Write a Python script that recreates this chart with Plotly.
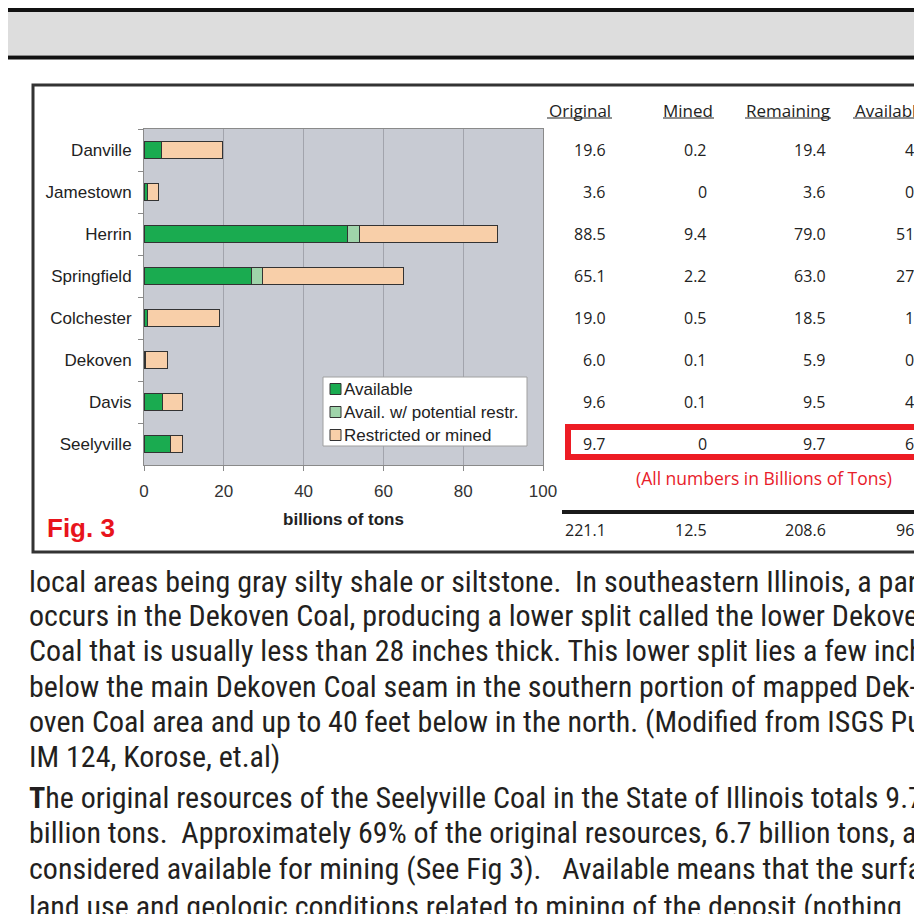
import plotly.graph_objects as go

# ---------------- data ----------------
coals = ["Danville", "Jamestown", "Herrin", "Springfield", "Colchester", "Dekoven", "Davis", "Seelyville"]
available = [4.5, 0.9, 51.0, 27.0, 1.0, 0.3, 4.7, 6.7]
avail_restr = [0, 0, 3.1, 2.6, 0, 0, 0, 0]
restricted = [15.1, 2.7, 34.4, 35.5, 18.0, 5.7, 4.9, 3.0]
series_names = ["Available", "Avail. w/ potential restr.", "Restricted or mined"]

original = [19.6, 3.6, 88.5, 65.1, 19.0, 6.0, 9.6, 9.7]
mined = ["0.2", "0", "9.4", "2.2", "0.5", "0.1", "0.1", "0"]
remaining = [19.4, 3.6, 79.0, 63.0, 18.5, 5.9, 9.5, 9.7]
table_headers = ["Original", "Mined", "Remaining", "Available"]
totals = ["221.1", "12.5", "208.6", "96.1"]

x_ticks = [0, 20, 40, 60, 80, 100]

body_lines = [
    "local areas being gray silty shale or siltstone.  In southeastern Illinois, a parting",
    "occurs in the Dekoven Coal, producing a lower split called the lower Dekoven",
    "Coal that is usually less than 28 inches thick. This lower split lies a few inches",
    "below the main Dekoven Coal seam in the southern portion of mapped Dek-",
    "oven Coal area and up to 40 feet below in the north. (Modified from ISGS Pub.",
    "IM 124, Korose, et.al)",
    "",
    "<b>T</b>he original resources of the Seelyville Coal in the State of Illinois totals 9.7",
    "billion tons.  Approximately 69% of the original resources, 6.7 billion tons, are",
    "considered available for mining (See Fig 3).   Available means that the surface",
    "land use and geologic conditions related to mining of the deposit (nothing",
]

# ---------------- layout helpers (page pixel -> paper) ----------------
OFF = 8  # page body margin of the browser
L, R, T, B = 144, 543, 129, 465
W, H = R - L, B - T
FIG_W, FIG_H = 922 - OFF, 922 - 2 * OFF


def PX(x):
    return (x - L) / W


def PY(y):
    return (B - y) / H


GREEN = "#1aab50"
LGREEN = "#9fd4aa"
PEACH = "#f8cfa9"
EDGE = "#333333"
colors = [GREEN, LGREEN, PEACH]
ARIAL = "Liberation Sans, Arial"
BODY_FONT = "Roboto Condensed, Liberation Sans Narrow, Roboto"

fig = go.Figure()
for name, vals, col in zip(series_names, [available, avail_restr, restricted], colors):
    fig.add_trace(go.Bar(
        y=coals, x=vals, orientation="h", name=name,
        marker=dict(color=col, line=dict(color=EDGE, width=1)),
        width=0.42, showlegend=False,
    ))

shapes = []
# top page strip
shapes.append(dict(type="rect", xref="paper", yref="paper", x0=PX(-5), x1=PX(930), y0=PY(12), y1=PY(55),
                   fillcolor="#dddddd", line=dict(width=0), layer="below"))
shapes.append(dict(type="rect", xref="paper", yref="paper", x0=PX(-5), x1=PX(930), y0=PY(6), y1=PY(12),
                   fillcolor="#111111", line=dict(width=0), layer="below"))
shapes.append(dict(type="rect", xref="paper", yref="paper", x0=PX(-5), x1=PX(930), y0=PY(55), y1=PY(56),
                   fillcolor="#888888", line=dict(width=0), layer="below"))
shapes.append(dict(type="rect", xref="paper", yref="paper", x0=PX(-5), x1=PX(930), y0=PY(56), y1=PY(59.5),
                   fillcolor="#111111", line=dict(width=0), layer="below"))
# figure frame
shapes.append(dict(type="rect", xref="paper", yref="paper", x0=PX(33), x1=PX(940), y0=PY(552), y1=PY(85),
                   line=dict(color="#333333", width=3), fillcolor="rgba(0,0,0,0)", layer="below"))
# header underlines
for x0, x1 in [(547, 612), (663, 714), (745, 831), (853, 930)]:
    shapes.append(dict(type="line", xref="paper", yref="paper", x0=PX(x0), x1=PX(x1), y0=PY(118), y1=PY(118),
                       line=dict(color="#222222", width=1.2)))
# red highlight box
shapes.append(dict(type="rect", xref="paper", yref="paper", x0=PX(568), x1=PX(945), y0=PY(457), y1=PY(427),
                   line=dict(color="#ed1c24", width=6), fillcolor="rgba(0,0,0,0)"))
# totals rule
shapes.append(dict(type="line", xref="paper", yref="paper", x0=PX(562), x1=PX(935), y0=PY(512), y1=PY(512),
                   line=dict(color="#1a1a1a", width=4)))

# legend (drawn as a boxed key)
shapes.append(dict(type="rect", xref="paper", yref="paper", x0=PX(323), x1=PX(527), y0=PY(446), y1=PY(377),
                   fillcolor="white", line=dict(color="#a0a0a0", width=1)))
legend_y = [389, 412, 435]
ann = []
for name, col, yv in zip(series_names, colors, legend_y):
    shapes.append(dict(type="rect", xref="paper", yref="paper", x0=PX(330), x1=PX(341),
                       y0=PY(yv + 5.5), y1=PY(yv - 5.5), fillcolor=col, line=dict(color=EDGE, width=1)))
    ann.append(dict(xref="paper", yref="paper", x=PX(342), y=PY(yv), text=name, showarrow=False,
                    xanchor="left", yanchor="middle", font=dict(family=ARIAL, size=17, color="#222222")))

TFONT = "Open Sans"
header_pos = [(580, "center"), (688, "center"), (788, "center"), (853, "left")]
for (xv, anc), txt in zip(header_pos, table_headers):
    ann.append(dict(xref="paper", yref="paper", x=PX(xv), y=PY(110), text=txt, showarrow=False,
                    xanchor=anc, yanchor="middle", font=dict(family=TFONT, size=17, color="#222222")))

col_right = [608, 709, 828, 930]
for i, c in enumerate(coals):
    vals = [f"{original[i]:.1f}", mined[i], f"{remaining[i]:.1f}", f"{available[i]:.1f}"]
    for xv, v in zip(col_right, vals):
        ann.append(dict(xref="paper", yref="y", x=PX(xv), y=c, text=v, showarrow=False,
                        xanchor="right", yanchor="middle", font=dict(family=TFONT, size=16, color="#222222")))
for xv, v in zip(col_right, totals):
    ann.append(dict(xref="paper", yref="paper", x=PX(xv), y=PY(530), text=v, showarrow=False,
                    xanchor="right", yanchor="middle", font=dict(family=TFONT, size=16, color="#222222")))

ann.append(dict(xref="paper", yref="paper", x=PX(764), y=PY(478), text="(All numbers in Billions of Tons)",
                showarrow=False, xanchor="center", yanchor="middle",
                font=dict(family=TFONT, size=17.5, color="#e8202a")))
ann.append(dict(xref="paper", yref="paper", x=PX(45), y=PY(528), text="<b>Fig. 3</b>",
                showarrow=False, xanchor="left", yanchor="middle",
                font=dict(family=ARIAL, size=26, color="#e8141c")))

line_y = [581, 615, 650, 686, 721, 756, 0, 797, 832, 868, 906]
for yv, txt in zip(line_y, body_lines):
    if not txt:
        continue
    ann.append(dict(xref="paper", yref="paper", x=PX(27), y=PY(yv), text=txt, showarrow=False,
                    xanchor="left", yanchor="middle",
                    font=dict(family=BODY_FONT, size=30, color="#231f20")))

fig.update_layout(
    width=FIG_W, height=FIG_H,
    margin=dict(l=L - OFF, r=FIG_W - (R - OFF), t=T - OFF, b=FIG_H - (B - OFF), pad=0),
    paper_bgcolor="white", plot_bgcolor="#c8cbd3",
    barmode="stack",
    showlegend=False,
    xaxis=dict(range=[0, 100], tickvals=x_ticks, showgrid=True, gridcolor="#a2a4ac", gridwidth=1,
               zeroline=False, showline=True, linecolor="#8a8a8a", linewidth=1, mirror=True,
               ticks="outside", ticklen=5, tickcolor="#8a8a8a",
               tickfont=dict(family=ARIAL, size=17, color="#333333"),
               ticklabelstandoff=6,
               title=dict(text="<b>billions of tons</b>", standoff=12,
                          font=dict(family=ARIAL, size=17, color="#222222"))),
    yaxis=dict(categoryorder="array", categoryarray=coals, autorange="reversed",
               showline=True, linecolor="#8a8a8a", linewidth=1, mirror=True,
               ticks="outside", tickson="boundaries", ticklen=5, tickcolor="#8a8a8a",
               ticklabelstandoff=8,
               tickfont=dict(family=ARIAL, size=17, color="#222222")),
    shapes=shapes, annotations=ann,
)

fig.write_html("out.html")
